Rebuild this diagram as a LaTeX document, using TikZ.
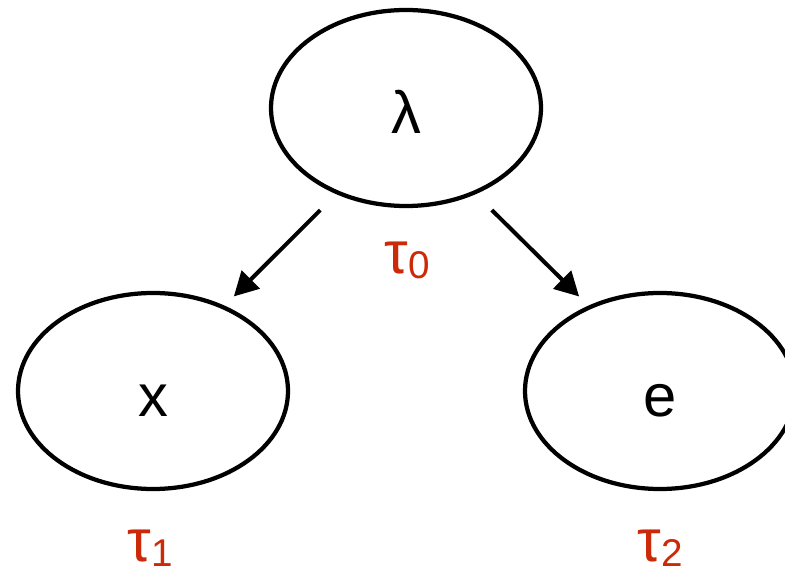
\documentclass[tikz,border=0pt]{standalone}
\usepackage{fontspec}
\setmainfont{Liberation Sans}
\usepackage{tikz}
\usetikzlibrary{shapes.geometric, arrows.meta, positioning}
\definecolor{taured}{RGB}{204, 41, 8}

\newcommand{\taulabel}[1]{τ\raisebox{-2.8pt}{\fontsize{22}{22}\selectfont #1}}

\begin{document}
\begin{tikzpicture}[
    every node/.style={font=\fontsize{34}{34}\selectfont},
    var/.style={ellipse, draw=black, line width=0.085cm, minimum width=5.4cm, minimum height=3.92cm, inner sep=0pt, text height=1.04cm, text depth=0pt},
    tau/.style={text=taured, inner sep=0pt},
    arrow/.style={-{Triangle[length=0.48cm, width=0.5cm]}, line width=0.08cm}
]
\useasboundingbox (0,0) rectangle (15.7,-11.44);

% Variables
\node[var] (lam) at (8.12, -2.16) {λ};
\node[var] (x) at (3.06, -7.82) {x};
\node[var] (e) at (13.2, -7.82) {e};

% Labels
\node[tau] (t0) at (8.14, -5.2) {\taulabel{0}};
\node[tau] (t1) at (3.0, -10.96) {\taulabel{1}};
\node[tau] (t2) at (13.2, -10.96) {\taulabel{2}};

% Arrows
\draw[arrow, shorten <=0.45cm, shorten >=0.26cm] (lam.231) -- (x.50);
\draw[arrow, shorten <=0.45cm, shorten >=0.26cm] (lam.-51) -- (e.130);

\end{tikzpicture}
\end{document}
